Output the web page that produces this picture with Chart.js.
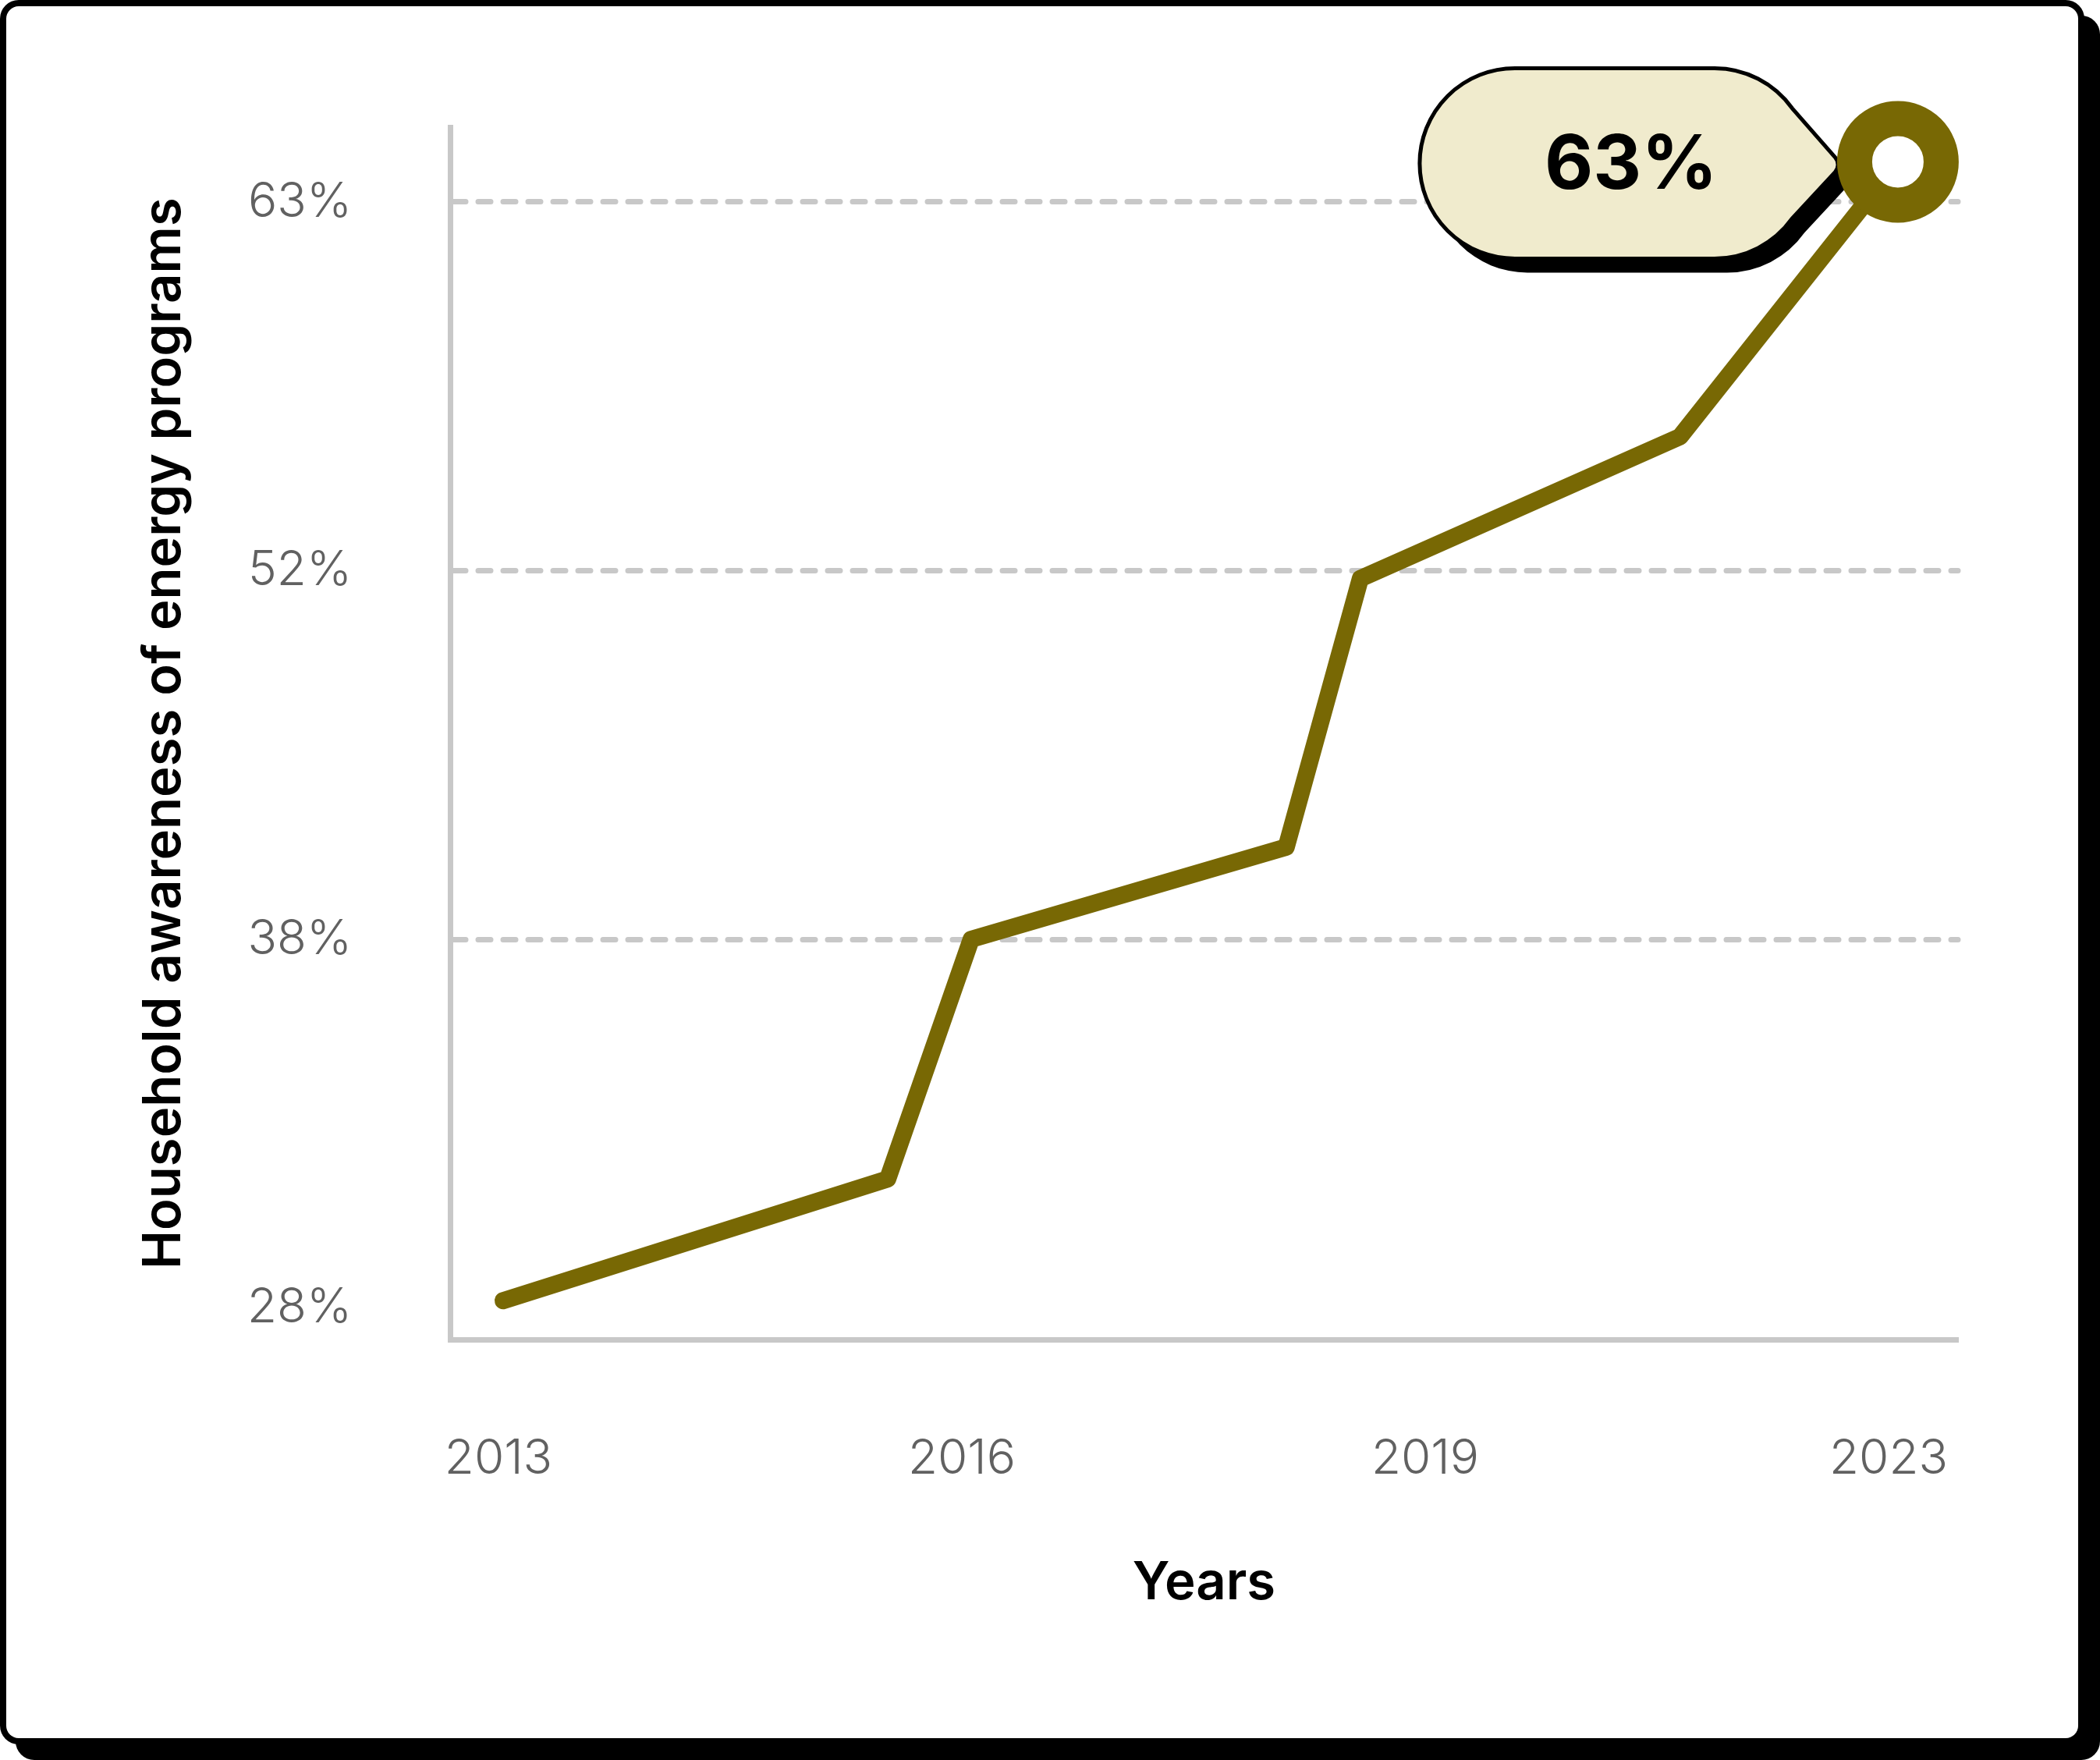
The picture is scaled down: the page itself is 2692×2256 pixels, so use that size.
<!DOCTYPE html>
<html>
<head>
<meta charset="utf-8">
<script src="https://cdn.jsdelivr.net/npm/chart.js@4.4.1/dist/chart.umd.min.js"></script>
<style>
  html, body { margin: 0; padding: 0; background: #fff; }
  canvas { display: block; }
</style>
</head>
<body>
<canvas id="myChart" width="2692" height="2256"></canvas>
<script>
// tick labels
const yearLabels = ["2013", "2016", "2019", "2023"];
const percentTicks = [28, 38, 52, 63];

// vertices of the line: place on the year axis (0 = 2013 ... 3 = 2023) and awareness in %
const pointPos = [0.01, 0.84, 1.02, 1.70, 1.86, 2.55, 3.02];
const awareness = [28.2, 31.5, 38, 41.5, 51.7, 56, 64.2];

const calloutText = "63%";

const lineColor = "#786804";
const gridColor = "#c8c8c8";
const tickColor = "#616161";
const fontFamily = "Inter, 'Open Sans', sans-serif";

// the y ticks are evenly spaced but the percentages are not,
// so a value is placed between its two neighbouring ticks
function percentToSlot(v) {
  let i = 0;
  while (i < percentTicks.length - 2 && v > percentTicks[i + 1]) i++;
  return i + (v - percentTicks[i]) / (percentTicks[i + 1] - percentTicks[i]);
}

const lineData = pointPos.map(function (x, i) {
  return { x: x, y: percentToSlot(awareness[i]) };
});

// white card with black border and hard shadow
const cardPlugin = {
  id: "card",
  beforeDraw(chart) {
    const c = chart.ctx;
    c.save();
    c.fillStyle = "#000";
    c.beginPath();
    c.roundRect(20, 20, 2672, 2236, 24);
    c.fill();
    c.beginPath();
    c.roundRect(0, 0, 2672, 2236, 24);
    c.fill();
    c.fillStyle = "#fff";
    c.beginPath();
    c.roundRect(8, 8, 2656, 2220, 16);
    c.fill();
    c.restore();
    // dashed grid lines have round ends
    c.lineCap = "round";
  },
};

// speech bubble pointing at the last point
const calloutPlugin = {
  id: "callout",
  beforeDatasetsDraw(chart) {
    const meta = chart.getDatasetMeta(0);
    const pt = meta.data[meta.data.length - 1];
    const c = chart.ctx;
    c.lineCap = "butt";
    const r = 122;
    const cy = pt.y + 2;
    const left = pt.x - 613;
    const rightC = pt.x - 235;
    const tipX = pt.x - 72;
    const tipY = pt.y + 4;
    const a = 0.62;

    function path(dx, dy) {
      c.beginPath();
      c.moveTo(left + r + dx, cy - r + dy);
      c.lineTo(rightC + dx, cy - r + dy);
      c.arc(rightC + dx, cy + dy, r, -Math.PI / 2, -a);
      c.arcTo(tipX + dx, tipY + dy,
        rightC + r * Math.cos(a) + dx, cy + r * Math.sin(a) + dy, 14);
      c.lineTo(rightC + r * Math.cos(a) + dx, cy + r * Math.sin(a) + dy);
      c.arc(rightC + dx, cy + dy, r, a, Math.PI / 2);
      c.lineTo(left + r + dx, cy + r + dy);
      c.arc(left + r + dx, cy + dy, r, Math.PI / 2, Math.PI * 1.5);
      c.closePath();
    }

    c.save();
    c.lineJoin = "round";
    path(16, 18);
    c.fillStyle = "#000";
    c.fill();
    path(0, 0);
    c.fillStyle = "#f0ebcd";
    c.fill();
    c.lineWidth = 5;
    c.strokeStyle = "#000";
    c.stroke();

    c.fillStyle = "#000";
    c.font = "700 96px " + fontFamily;
    c.textAlign = "center";
    c.textBaseline = "middle";
    c.fillText(calloutText, pt.x - 342, cy + 4);
    c.restore();
  },
};

const ctx = document.getElementById("myChart");
const myChart = new Chart(ctx, {
  type: "line",
  data: {
    datasets: [
      {
        data: lineData,
        borderColor: lineColor,
        borderWidth: 22,
        borderCapStyle: "round",
        borderJoinStyle: "round",
        tension: 0,
        clip: false,
        pointRadius: lineData.map(function (d, i) {
          return i === lineData.length - 1 ? 55.5 : 0;
        }),
        pointHoverRadius: lineData.map(function (d, i) {
          return i === lineData.length - 1 ? 55.5 : 0;
        }),
        pointBorderWidth: 45,
        pointHoverBorderWidth: 45,
        pointBorderColor: lineColor,
        pointBackgroundColor: "#fff",
      },
    ],
  },
  options: {
    responsive: false,
    devicePixelRatio: 1,
    animation: false,
    events: [],
    layout: {
      padding: { left: 100, right: 182, top: 160, bottom: 150 },
    },
    plugins: {
      legend: { display: false },
      tooltip: { enabled: false },
    },
    scales: {
      x: {
        type: "linear",
        min: -0.1044,
        max: 3.1498,
        afterBuildTicks: function (scale) {
          scale.ticks = yearLabels.map(function (l, i) {
            return { value: i };
          });
        },
        afterFit: function (scale) {
          scale.height = 389;
        },
        ticks: {
          autoSkip: false,
          maxRotation: 0,
          padding: 116,
          color: tickColor,
          font: { family: fontFamily, size: 62, weight: "300" },
          callback: function (value, index) {
            return yearLabels[index];
          },
        },
        grid: { display: false, drawTicks: false },
        border: { display: true, color: gridColor, width: 7, z: 1 },
        title: {
          display: true,
          text: "Years",
          color: "#000",
          font: { family: fontFamily, size: 67, weight: "600" },
          padding: { top: 0, bottom: 36 },
        },
      },
      y: {
        type: "linear",
        min: -0.0855,
        max: 3.2027,
        afterBuildTicks: function (scale) {
          scale.ticks = percentTicks.map(function (p, i) {
            return { value: i };
          });
        },
        afterFit: function (scale) {
          scale.width = 477;
        },
        ticks: {
          padding: 126,
          color: tickColor,
          font: { family: fontFamily, size: 62, weight: "300" },
          callback: function (value, index) {
            return percentTicks[index] + "%";
          },
        },
        grid: {
          drawTicks: false,
          lineWidth: 7,
          color: function (c) {
            return c.index === 0 ? "rgba(0,0,0,0)" : gridColor;
          },
        },
        border: { display: true, color: gridColor, width: 7, dash: [16, 16], z: 1 },
        title: {
          display: true,
          text: "Household awareness of energy programs",
          color: "#000",
          font: { family: fontFamily, size: 67, weight: "600" },
          padding: { top: 71, bottom: 0 },
        },
      },
    },
  },
  plugins: [cardPlugin, calloutPlugin],
});
</script>
</body>
</html>
